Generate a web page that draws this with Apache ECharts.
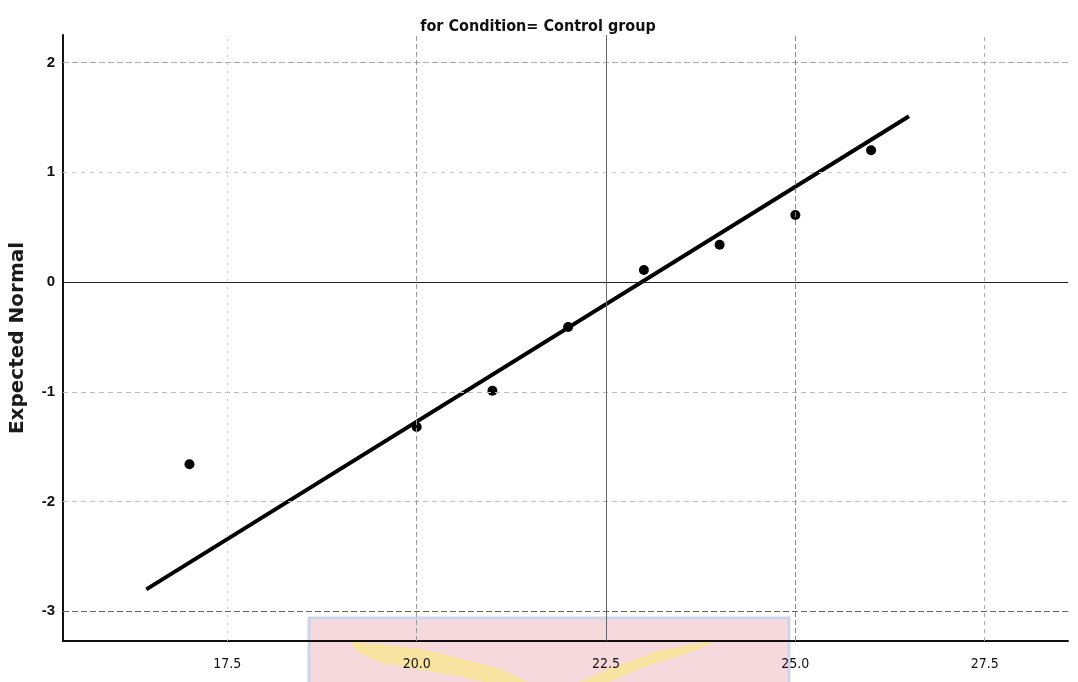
<!DOCTYPE html>
<html>
<head>
<meta charset="utf-8">
<script src="https://cdn.jsdelivr.net/npm/echarts@6/dist/echarts.min.js"></script>
<style>
html,body{margin:0;padding:0;background:#fff;}
#wrap{position:relative;width:1078px;height:682px;overflow:hidden;background:#fff;}
#wm{position:absolute;left:0;top:0;width:1078px;height:682px;z-index:0;}
#c{position:absolute;left:0;top:0;width:1078px;height:682px;z-index:1;}
</style>
</head>
<body>
<div id="wrap">
<svg id="wm" width="1078" height="682" xmlns="http://www.w3.org/2000/svg">
  <rect x="309" y="618" width="480" height="70" fill="#f6d9dd" stroke="#cdd5ea" stroke-width="3"/>
  <polygon points="350,641 420,648 500,668 545,690 520,690 460,676 380,662 358,652" fill="#f8e3a0"/>
  <polygon points="720,639 690,652 640,668 590,690 560,690 610,668 660,650" fill="#f8e3a0"/>
</svg>
<div id="c"></div>
</div>
<script>
const titleText = 'for Condition= Control group';
const yAxisName = 'Expected Normal';
const xTickValues = [17.5, 20.0, 22.5, 25.0, 27.5];
const yTickValues = [-3, -2, -1, 0, 1, 2];
const observedValue = [17, 20, 21, 22, 23, 24, 25, 26];
const expectedNormal = [-1.66, -1.32, -0.99, -0.41, 0.11, 0.34, 0.61, 1.20];
const refLineX = [16.43, 26.50];
const refLineY = [-2.80, 1.51];

const yGridStyles = {
  '-3': {color: '#666', type: [6, 3], width: 1},
  '-2': {color: '#bbb', type: [5, 4], width: 1},
  '-1': {color: '#bbb', type: [5, 4], width: 1},
  '0':  {color: '#222', type: 'solid', width: 1.2},
  '1':  {color: '#c8c8c8', type: [4, 5], width: 1},
  '2':  {color: '#aaa', type: [6, 3], width: 1}
};
const xGridStyles = {
  '17.5': {color: '#c8c8c8', type: [2, 6], width: 1},
  '20':   {color: '#999', type: [5, 3], width: 1},
  '22.5': {color: '#666', type: 'solid', width: 1},
  '25':   {color: '#888', type: [5, 3], width: 1},
  '27.5': {color: '#aaa', type: [4, 4], width: 1}
};

const chart = echarts.init(document.getElementById('c'), null, {renderer: 'canvas'});
const gridMarks = [];
yTickValues.forEach(v => gridMarks.push({yAxis: v, lineStyle: yGridStyles[String(v)]}));
xTickValues.forEach(v => gridMarks.push({xAxis: v, lineStyle: xGridStyles[String(v)]}));

chart.setOption({
  backgroundColor: 'transparent',
  animation: false,
  title: {
    text: titleText,
    left: 533, top: 14, textAlign: 'center',
    textStyle: {fontFamily: "'Liberation Sans Narrow','DejaVu Sans Condensed',sans-serif", fontWeight: 'bold', fontSize: 16, color: '#111'}
  },
  grid: {left: 63, right: 10, top: 35, bottom: 41, containLabel: false},
  xAxis: {
    type: 'value', min: 15.33, max: 28.6,
    axisLine: {show: true, onZero: false, lineStyle: {color: '#111', width: 2}},
    axisTick: {show: false},
    splitLine: {show: false},
    axisLabel: {
      customValues: xTickValues,
      formatter: v => v.toFixed(1),
      margin: 16,
      fontFamily: "'Liberation Sans Narrow','DejaVu Sans Condensed',sans-serif",
      fontSize: 14, color: '#111'
    }
  },
  yAxis: {
    type: 'value', min: -3.27, max: 2.25,
    name: yAxisName, nameLocation: 'middle', nameGap: 35, nameRotate: 90,
    nameTextStyle: {fontFamily: "'DejaVu Sans',sans-serif", fontWeight: 'bold', fontSize: 20, color: '#1a1a1a'},
    axisLine: {show: true, onZero: false, lineStyle: {color: '#111', width: 2}},
    axisTick: {show: false},
    splitLine: {show: false},
    axisLabel: {
      customValues: yTickValues,
      formatter: v => String(v),
      margin: 8,
      fontFamily: "'Liberation Sans',Arial,sans-serif",
      fontWeight: 'bold', fontSize: 15, color: '#111'
    }
  },
  series: [
    {
      type: 'scatter', data: [], silent: true,
      markLine: {silent: true, symbol: 'none', label: {show: false}, data: gridMarks, animation: false}
    },
    {
      type: 'line', data: refLineX.map((x, i) => [x, refLineY[i]]),
      symbol: 'none', silent: true,
      lineStyle: {color: '#000', width: 4}, z: 3
    },
    {
      type: 'scatter', data: observedValue.map((x, i) => [x, expectedNormal[i]]),
      symbol: 'circle', symbolSize: 10, itemStyle: {color: '#000', opacity: 1}, z: 4
    }
  ]
});
</script>
</body>
</html>
